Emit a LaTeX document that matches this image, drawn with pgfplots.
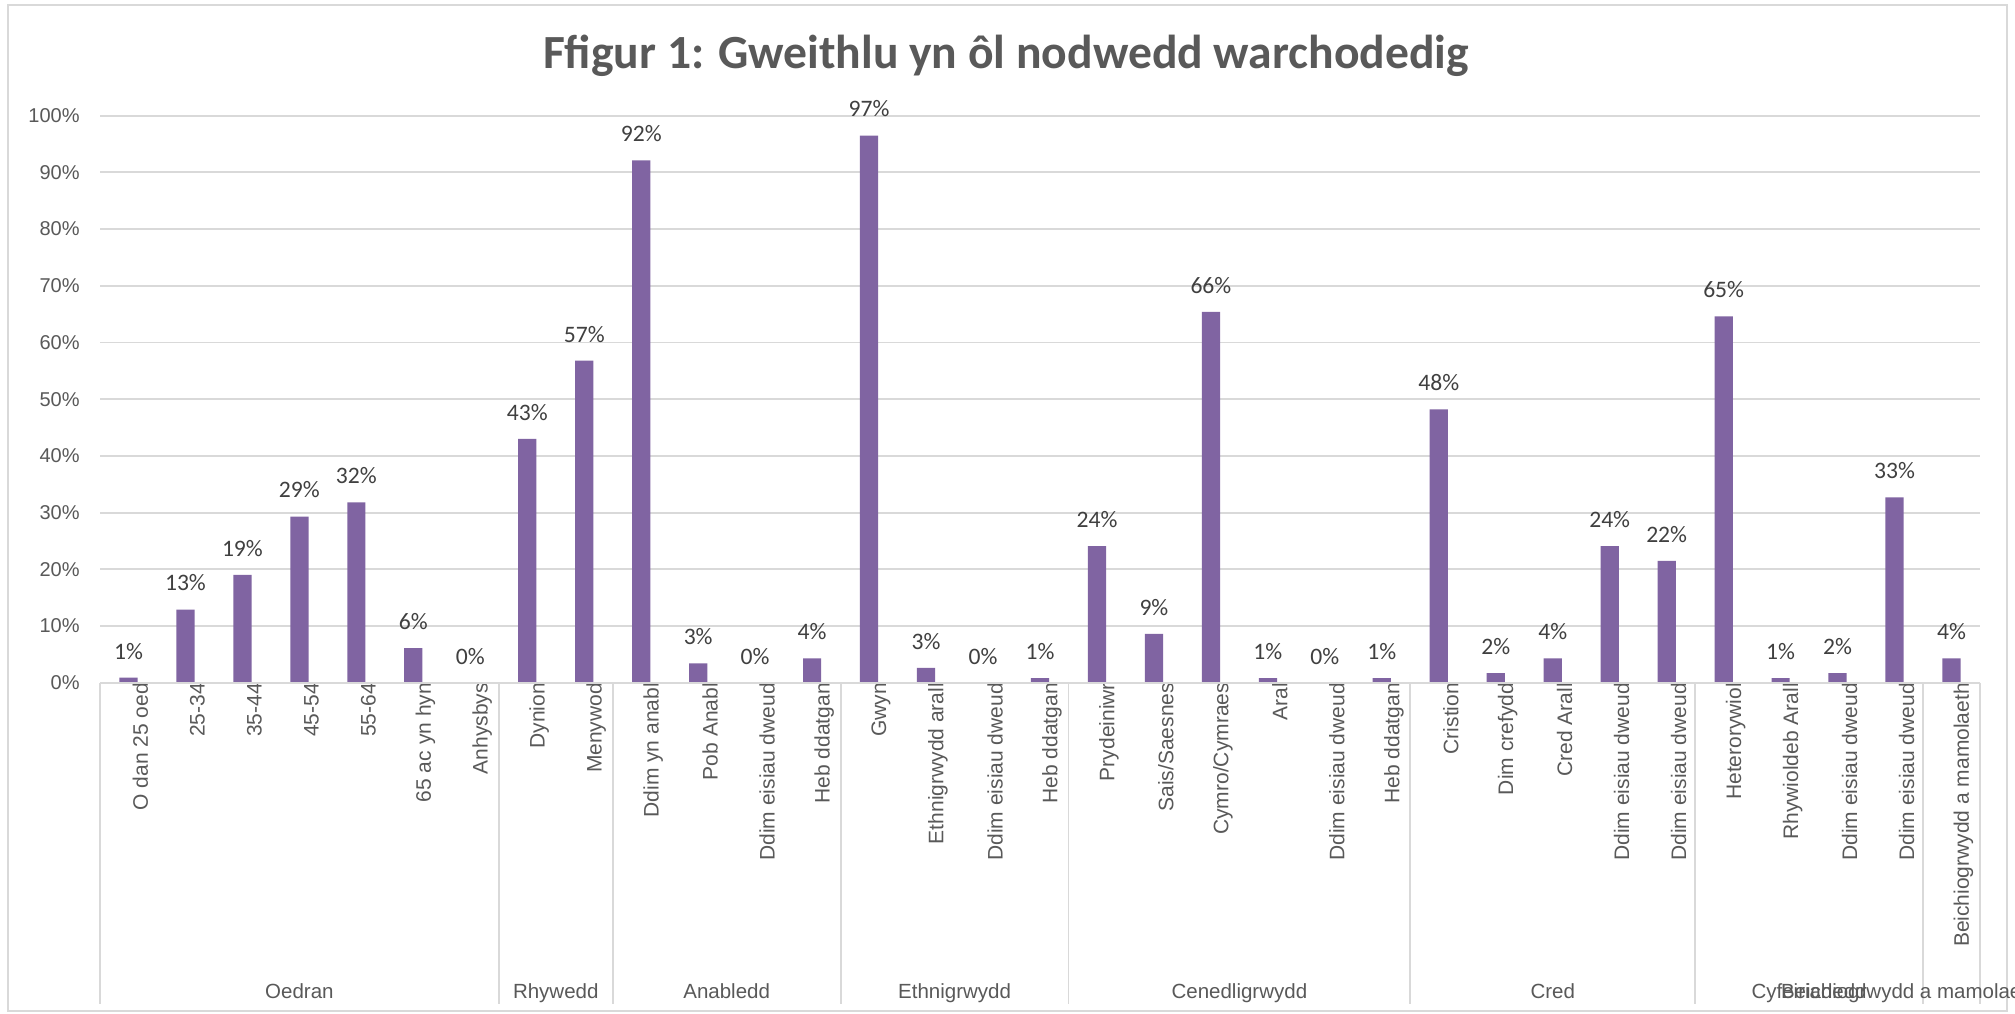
\documentclass[border=0pt]{standalone}
\usepackage{pgfplots}
\pgfplotsset{compat=1.18}
\usepackage{fontspec}
\setmainfont{Liberation Sans}
\newfontfamily\calibri{Carlito}
\definecolor{barcol}{HTML}{8064A2}
\definecolor{gridcol}{HTML}{D9D9D9}
\definecolor{tickcol}{HTML}{595959}
\definecolor{labcol}{HTML}{404040}
\begin{document}
\begin{tikzpicture}[x=1pt,y=1pt]
\useasboundingbox (0,0) rectangle (1007.5,506.5);
\fill[white] (0,0) rectangle (1007.5,506.5);
\draw[gridcol, line width=0.9pt] (4,1) rectangle (1003.5,504);
\node[font=\calibri\bfseries\fontsize{23.8}{28}\selectfont, text=tickcol, anchor=base, inner sep=0pt] at (503,472) {Ffigur 1: Gweithlu yn ôl nodwedd warchodedig};
\begin{axis}[
  at={(50pt,165.15pt)}, anchor=south west,
  scale only axis, width=940pt, height=283.5pt,
  xmin=-0.5, xmax=32.5, ymin=0, ymax=100,
  clip=false,
  axis line style={draw=none},
  major tick length=0pt,
  ymajorgrids, grid style={gridcol, line width=0.9pt},
  ytick={0,10,...,100},
  yticklabels={0\%,10\%,20\%,30\%,40\%,50\%,60\%,70\%,80\%,90\%,100\%},
  yticklabel style={font=\fontsize{10}{12}\selectfont, text=tickcol, inner sep=0pt, xshift=-10pt},
  xtick=data,
  xticklabels={O dan 25 oed,25-34,35-44,45-54,55-64,65 ac yn hyn,Anhysbys,Dynion,Menywod,Ddim yn anabl,Pob Anabl,Ddim eisiau dweud,Heb ddatgan,Gwyn,Ethnigrwydd arall,Ddim eisiau dweud,Heb ddatgan,Prydeiniwr,Sais/Saesnes,Cymro/Cymraes,Aral,Ddim eisiau dweud,Heb ddatgan,Cristion,Dim crefydd,Cred Arall,Ddim eisiau dweud,Ddim eisiau dweud,Heterorywiol,Rhywioldeb Arall,Ddim eisiau dweud,Ddim eisiau dweud,Beichiogrwydd a mamolaeth},
  xticklabel style={rotate=90, anchor=east, font=\fontsize{10.5}{12}\selectfont, text=tickcol, inner sep=0pt, yshift=-6pt},
  /pgf/number format/assume math mode=true,
]
\addplot[ybar, bar width=0.32, fill=barcol, draw=none,
  point meta=explicit,
  nodes near coords={\pgfmathprintnumber[fixed,precision=0]{\pgfplotspointmeta}\%},
  every node near coord/.append style={font=\calibri\fontsize{11.8}{14}\selectfont, text=labcol, anchor=south, inner sep=0pt, yshift=9pt},
] coordinates {
(0,0.9) [1] (1,12.9) [13] (2,19.0) [19] (3,29.3) [29] (4,31.8) [32] (5,6.1) [6] (6,0) [0]
(7,43.0) [43] (8,56.8) [57]
(9,92.1) [92] (10,3.4) [3] (11,0) [0] (12,4.3) [4]
(13,96.5) [97] (14,2.6) [3] (15,0) [0] (16,0.8) [1]
(17,24.1) [24] (18,8.6) [9] (19,65.4) [66] (20,0.8) [1] (21,0) [0] (22,0.8) [1]
(23,48.2) [48] (24,1.7) [2] (25,4.3) [4] (26,24.1) [24] (27,21.5) [22]
(28,64.6) [65] (29,0.8) [1] (30,1.7) [2] (31,32.7) [33]
(32,4.3) [4]
};
\draw[gridcol, line width=0.9pt] (axis cs:-0.5,0) -- (axis cs:32.5,0);
\pgfplotsinvokeforeach{-0.5,6.5,8.5,12.5,16.5,22.5,27.5,31.5,32.5}{
  \draw[gridcol, line width=0.9pt] (axis cs:#1,0) -- ([yshift=-160.65pt]axis cs:#1,0);
}
\begin{scope}[every node/.style={font=\fontsize{10.25}{12}\selectfont, text=tickcol, anchor=base, inner sep=0pt, yshift=-157.65pt}]
\node at (axis cs:3,0) {Oedran};
\node at (axis cs:7.5,0) {Rhywedd};
\node at (axis cs:10.5,0) {Anabledd};
\node at (axis cs:14.5,0) {Ethnigrwydd};
\node at (axis cs:19.5,0) {Cenedligrwydd};
\node at (axis cs:25,0) {Cred};
\node at (axis cs:29.5,0) {Cyfeiriadedd};
\node[anchor=base west] at (axis cs:29.0,0) {Beichiogrwydd a mamolaeth};
\end{scope}
\end{axis}
\end{tikzpicture}
\end{document}
